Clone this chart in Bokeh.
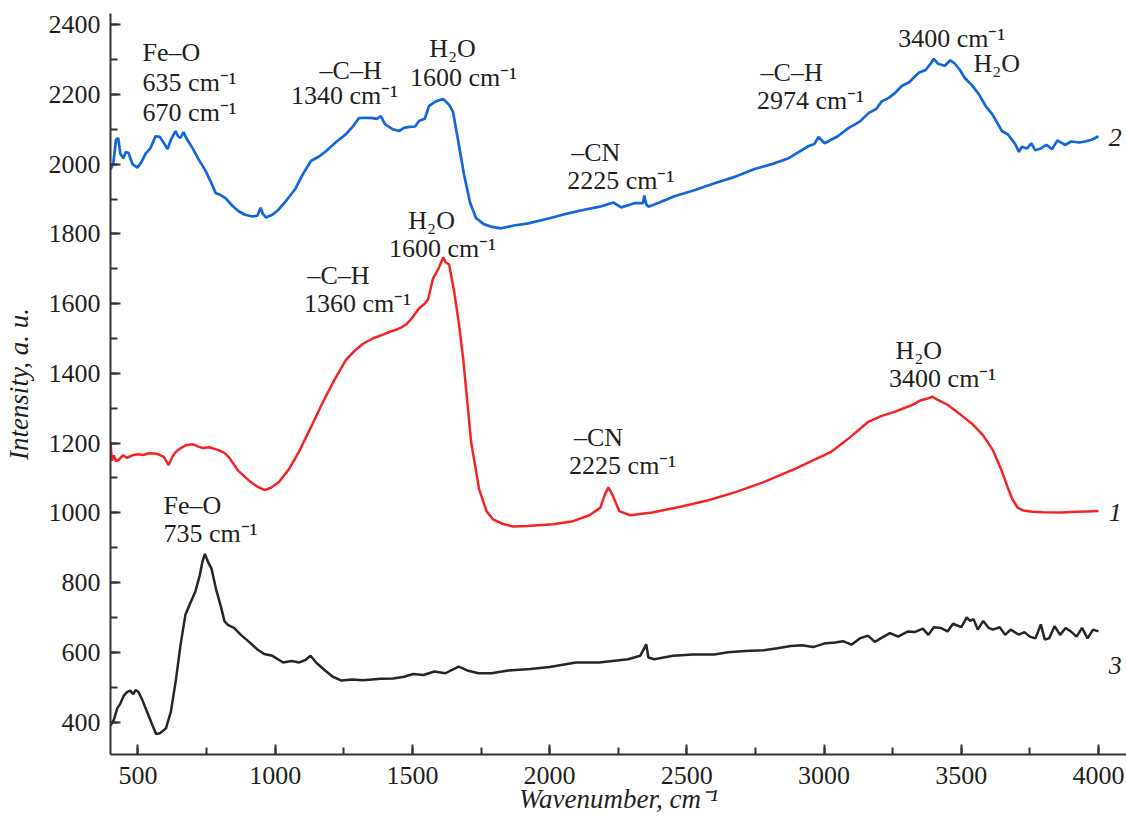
from bokeh.plotting import figure
from bokeh.models import SingleIntervalTicker, Range1d
from bokeh.core.properties import value
from bokeh.embed import file_html
from bokeh.resources import INLINE

# ---- data ----
blue_x = [400, 410, 420, 428, 436, 447, 456, 466, 480, 498, 512, 528, 545, 564, 580, 595, 608, 620, 637, 646,
          655, 666, 676, 699, 720, 747, 765, 783, 800, 820, 845, 867, 890, 918, 935, 947, 955, 966, 990, 1013,
          1045, 1075, 1100, 1130, 1160, 1185, 1220, 1258, 1285, 1305, 1330, 1356, 1370, 1385, 1400, 1429, 1451,
          1470, 1488, 1510, 1524, 1545, 1561, 1585, 1612, 1634, 1648, 1666, 1688, 1710, 1732, 1760, 1790, 1823,
          1870, 1922, 2000, 2068, 2130, 2188, 2232, 2261, 2309, 2340, 2345, 2352, 2360, 2400, 2455, 2530, 2601,
          2680, 2747, 2810, 2871, 2944, 2965, 2980, 3002, 3050, 3090, 3130, 3163, 3190, 3210, 3236, 3260, 3283,
          3310, 3345, 3370, 3390, 3400, 3415, 3440, 3460, 3477, 3495, 3513, 3540, 3564, 3590, 3612, 3630, 3648,
          3670, 3696, 3710, 3721, 3740, 3755, 3769, 3790, 3810, 3831, 3850, 3878, 3900, 3930, 3951, 3975, 4000]
blue_y = [1985, 2000, 2070, 2075, 2030, 2017, 2035, 2032, 2000, 1990, 2005, 2030, 2045, 2080, 2078, 2060, 2043,
          2070, 2095, 2080, 2075, 2092, 2075, 2046, 2015, 1980, 1950, 1917, 1912, 1902, 1880, 1865, 1855, 1850,
          1852, 1875, 1858, 1847, 1855, 1870, 1900, 1931, 1970, 2009, 2022, 2037, 2062, 2086, 2110, 2132, 2133,
          2132, 2130, 2138, 2115, 2100, 2095, 2104, 2107, 2108, 2124, 2130, 2167, 2180, 2187, 2170, 2150, 2070,
          1971, 1890, 1845, 1828, 1820, 1816, 1824, 1830, 1845, 1859, 1870, 1879, 1890, 1876, 1888, 1888, 1910,
          1885, 1878, 1890, 1908, 1926, 1945, 1965, 1986, 2000, 2017, 2052, 2058, 2078, 2060, 2080, 2104, 2122,
          2147, 2158, 2180, 2190, 2205, 2224, 2235, 2262, 2270, 2290, 2302, 2288, 2282, 2298, 2288, 2270, 2247,
          2225, 2201, 2165, 2144, 2120, 2095, 2085, 2058, 2035, 2050, 2045, 2060, 2040, 2045, 2055, 2043, 2068,
          2055, 2065, 2062, 2065, 2070, 2080]

red_x = [400, 405, 412, 420, 429, 445, 460, 480, 500, 520, 539, 560, 575, 595, 612, 625, 637, 655, 674, 699,
         720, 736, 760, 794, 815, 831, 864, 904, 935, 962, 985, 1013, 1050, 1086, 1130, 1174, 1215, 1258, 1290,
         1320, 1355, 1393, 1420, 1440, 1460, 1477, 1500, 1524, 1545, 1557, 1575, 1595, 1612, 1622, 1634, 1652,
         1670, 1685, 1700, 1714, 1743, 1770, 1794, 1830, 1867, 1920, 2013, 2080, 2145, 2185, 2200, 2214, 2230,
         2254, 2294, 2374, 2480, 2579, 2680, 2780, 2900, 3024, 3100, 3159, 3210, 3254, 3290, 3320, 3350, 3374,
         3395, 3414, 3450, 3498, 3540, 3579, 3615, 3645, 3668, 3686, 3705, 3726, 3760, 3800, 3864, 3920, 3960,
         4000]
red_y = [1200, 1150, 1165, 1148, 1151, 1165, 1158, 1165, 1168, 1166, 1171, 1170, 1168, 1160, 1137, 1160, 1174,
         1185, 1194, 1197, 1190, 1186, 1188, 1180, 1172, 1160, 1122, 1093, 1075, 1065, 1072, 1088, 1125, 1174,
         1245, 1318, 1380, 1439, 1465, 1485, 1500, 1511, 1520, 1525, 1532, 1540, 1560, 1586, 1600, 1612, 1672,
         1700, 1732, 1718, 1712, 1635, 1540, 1442, 1320, 1203, 1068, 1005, 981, 968, 961, 962, 967, 975, 993,
         1015, 1050, 1073, 1050, 1005, 993, 1001, 1018, 1036, 1060, 1088, 1128, 1174, 1220, 1260, 1278, 1289,
         1300, 1309, 1322, 1327, 1333, 1324, 1310, 1281, 1255, 1223, 1180, 1125, 1075, 1039, 1015, 1007, 1003,
         1002, 1001, 1003, 1004, 1005]

black_x = [400, 412, 425, 436, 448, 460, 472, 483, 492, 502, 515, 531, 548, 566, 580, 602, 620, 638, 655, 673,
           690, 709, 725, 735, 744, 755, 768, 785, 804, 815, 827, 850, 875, 905, 934, 960, 990, 1029, 1060, 1088,
           1110, 1129, 1150, 1183, 1210, 1242, 1280, 1320, 1385, 1430, 1470, 1503, 1540, 1580, 1620, 1669, 1700,
           1740, 1788, 1850, 1930, 2000, 2096, 2180, 2286, 2330, 2345, 2352, 2360, 2381, 2450, 2523, 2600, 2650,
           2713, 2780, 2830, 2879, 2920, 2960, 3000, 3040, 3069, 3100, 3130, 3160, 3185, 3211, 3240, 3270, 3306,
           3330, 3360, 3380, 3400, 3425, 3450, 3470, 3500, 3520, 3532, 3545, 3560, 3580, 3600, 3615, 3640, 3660,
           3680, 3709, 3730, 3750, 3770, 3790, 3804, 3820, 3840, 3860, 3880, 3899, 3920, 3940, 3960, 3980, 4000]
black_y = [390, 406, 440, 453, 475, 486, 490, 480, 492, 486, 465, 434, 400, 366, 368, 382, 430, 519, 620, 708,
           740, 774, 820, 860, 882, 860, 840, 780, 726, 690, 679, 670, 650, 630, 609, 595, 590, 571, 575, 571,
           578, 590, 570, 547, 530, 519, 522, 520, 524, 525, 530, 538, 535, 545, 540, 559, 548, 540, 540, 548,
           552, 558, 571, 571, 580, 590, 612, 623, 585, 580, 590, 594, 594, 600, 604, 606, 612, 618, 620, 615,
           625, 628, 632, 622, 640, 648, 630, 642, 655, 645, 660, 658, 668, 650, 672, 670, 660, 682, 672, 700,
           690, 695, 665, 690, 670, 665, 672, 650, 665, 651, 658, 645, 640, 680, 637, 640, 675, 650, 670, 660,
           645, 670, 640, 665, 660]

# annotations: (text, x, y, align)
notes = [
    ("Fe–O", 517, 2320, "left"), ("635 cm⁻¹", 517, 2234, "left"), ("670 cm⁻¹", 517, 2148, "left"),
    ("–C–H", 1275, 2268, "center"), ("1340 cm⁻¹", 1253, 2197, "center"),
    ("H₂O", 1646, 2331, "center"), ("1600 cm⁻¹", 1686, 2248, "center"),
    ("–CN", 2168, 2033, "center"), ("2225 cm⁻¹", 2259, 1953, "center"),
    ("–C–H", 2882, 2262, "center"), ("2974 cm⁻¹", 2951, 2182, "center"),
    ("3400 cm⁻¹", 3465, 2360, "center"), ("H₂O", 3629, 2288, "center"),
    ("H₂O", 1570, 1838, "center"), ("1600 cm⁻¹", 1610, 1758, "center"),
    ("–C–H", 1231, 1681, "center"), ("1360 cm⁻¹", 1300, 1601, "center"),
    ("–CN", 2178, 1217, "center"), ("2225 cm⁻¹", 2266, 1136, "center"),
    ("H₂O", 3345, 1466, "center"), ("3400 cm⁻¹", 3432, 1386, "center"),
    ("Fe–O", 593, 1022, "left"), ("735 cm⁻¹", 593, 942, "left"),
]
curve_ids = [("2", 4037, 2076), ("1", 4037, 1002), ("3", 4037, 563)]

FONT = "Liberation Serif"
TXT = "#231f20"

p = figure(width=1126, height=818, output_backend="svg", toolbar_location=None,
           x_range=Range1d(400, 4102), y_range=Range1d(307, 2432),
           min_border_left=110, min_border_right=0, min_border_top=13, min_border_bottom=64)
p.outline_line_color = None
p.xgrid.visible = False
p.ygrid.visible = False
p.background_fill_color = "white"

p.line(blue_x, blue_y, line_color="#1466dc", line_width=2.7)
p.line(red_x, red_y, line_color="#f42424", line_width=2.5)
p.line(black_x, black_y, line_color="#262626", line_width=2.5)

for t, x, y, a in notes:
    p.text(x=[x], y=[y], text=[t], text_font=value(FONT), text_font_size="26px",
           text_color=TXT, text_align=a, text_baseline="middle")
for t, x, y in curve_ids:
    p.text(x=[x], y=[y], text=[t], text_font=value(FONT), text_font_size="26px",
           text_font_style="italic", text_color=TXT, text_align="left", text_baseline="middle")

p.xaxis.ticker = SingleIntervalTicker(interval=500, num_minor_ticks=2)
p.yaxis.ticker = SingleIntervalTicker(interval=200, num_minor_ticks=2)
for ax in (p.xaxis, p.yaxis):
    ax.axis_line_color = "#333333"
    ax.axis_line_width = 2
    ax.major_tick_line_color = "#333333"
    ax.minor_tick_line_color = "#333333"
    ax.major_tick_line_width = 2
    ax.minor_tick_line_width = 2
    ax.major_tick_in = 10
    ax.major_tick_out = 0
    ax.minor_tick_in = 7
    ax.minor_tick_out = 0
    ax.major_label_text_font = FONT
    ax.major_label_text_font_size = "26px"
    ax.major_label_text_color = TXT
    ax.axis_label_text_font = FONT
    ax.axis_label_text_font_size = "27px"
    ax.axis_label_text_font_style = "italic"
    ax.axis_label_text_color = TXT
p.xaxis.major_label_standoff = 12
p.yaxis.major_label_standoff = 10
p.xaxis.axis_label = "Wavenumber, cm⁻¹"
p.yaxis.axis_label = "Intensity, a. u."
p.xaxis.axis_label_standoff = -3
p.yaxis.axis_label_standoff = 12

open("out.html", "w").write(file_html(p, INLINE))
